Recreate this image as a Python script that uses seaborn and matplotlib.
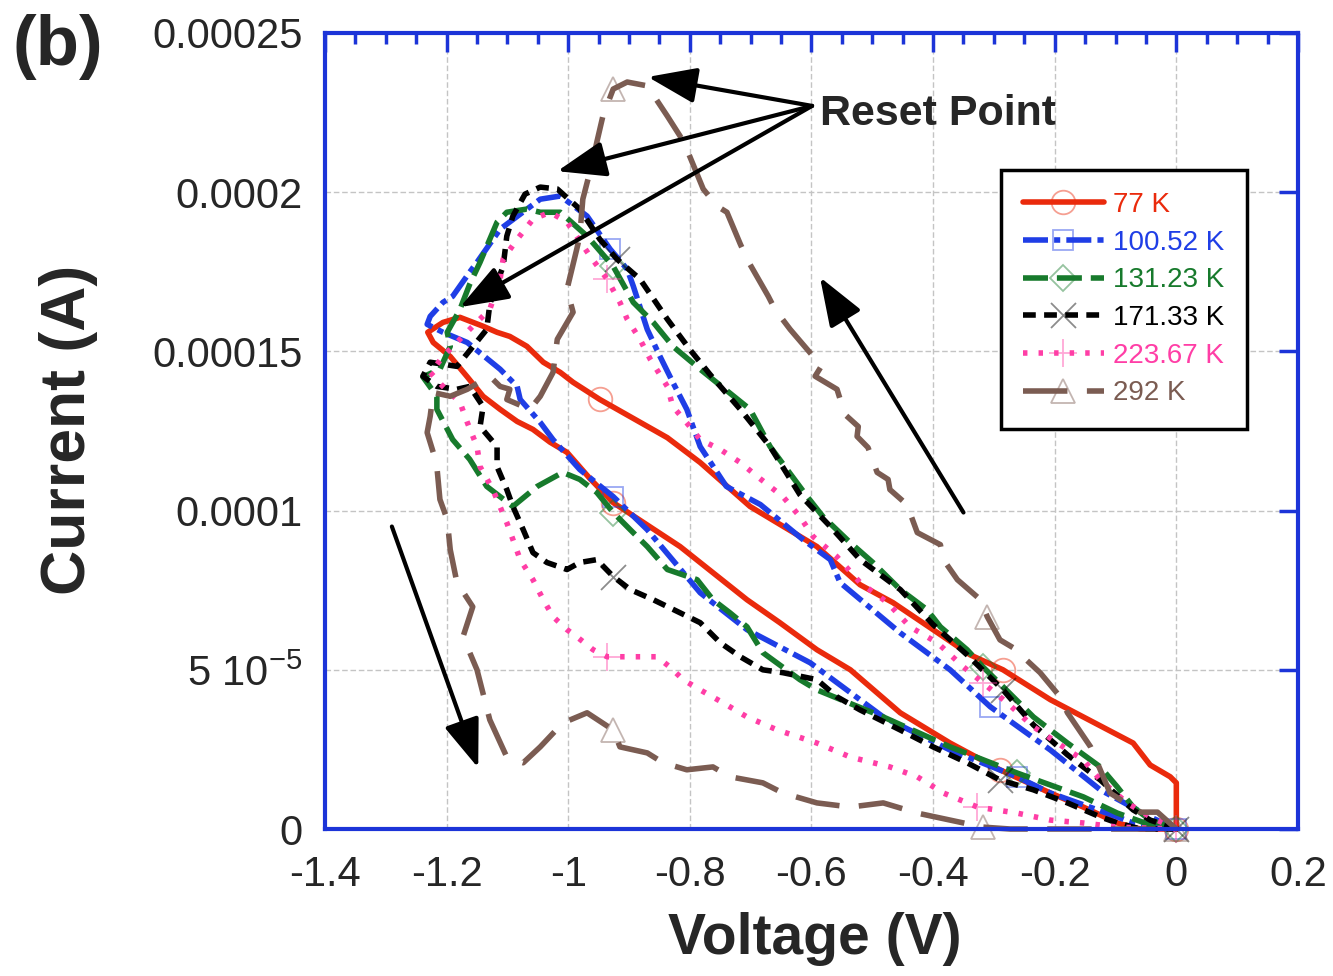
import numpy as np
import matplotlib
matplotlib.use("Agg")
import matplotlib.pyplot as plt
from matplotlib.lines import Line2D
from matplotlib.colors import to_rgba
from matplotlib.ticker import FixedLocator, MultipleLocator, NullLocator
import seaborn as sns

# ---------------------------------------------------------------------------
# I-V sweeps (voltage in V, current in microamps); each loop starts at 0 V,
# runs out along the high-current branch and returns along the low branch.
# ---------------------------------------------------------------------------
v_77 = [0.000, 0.000, -0.010, -0.043, -0.071, -0.153, -0.207, -0.285, -0.339, -0.400,
        -0.466, -0.520, -0.591, -0.701, -0.783, -0.837, -0.948, -0.992, -1.013, -1.041,
        -1.068, -1.096, -1.117, -1.140, -1.178, -1.206, -1.231,
        -1.222, -1.194, -1.166, -1.140, -1.112, -1.084, -1.058, -1.030, -1.002, -0.964,
        -0.926, -0.816, -0.706, -0.652, -0.591, -0.536, -0.454, -0.372, -0.290, -0.207,
        -0.153, -0.097, -0.059, 0.000]
i_77 = [0.0, 14.5, 16.4, 20.1, 27.0, 35.2, 40.6, 50.0, 54.7, 62.6,
        71.1, 76.7, 88.7, 101.3, 115.1, 122.9, 134.9, 140.3, 143.4, 146.6,
        151.6, 154.7, 156.0, 157.9, 160.7, 159.1, 156.0,
        152.8, 148.4, 142.0, 135.9, 131.8, 128.0, 125.5, 121.5, 118.3, 110.0,
        102.5, 88.7, 72.0, 64.8, 56.3, 50.0, 36.5, 27.0, 18.6, 11.3,
        6.9, 1.9, 0.0, 0.0]

v_100 = [0.000, -0.043, -0.125, -0.207, -0.306, -0.372, -0.454, -0.553, -0.569, -0.614,
         -0.684, -0.740, -0.783, -0.805, -0.828, -0.849, -0.870, -0.893, -0.903, -0.931,
         -0.969, -1.013, -1.046, -1.112, -1.150, -1.162, -1.190, -1.206, -1.227, -1.232,
         -1.206, -1.166, -1.112, -1.084, -1.079, -1.046, -1.025, -0.981, -0.926, -0.870,
         -0.783, -0.706, -0.652, -0.602, -0.482, -0.372, -0.262, -0.207, -0.097, -0.071,
         0.000]
i_100 = [0.0, 3.8, 12.3, 24.8, 38.4, 50.0, 61.6, 77.4, 84.6, 90.9,
         101.9, 107.6, 120.1, 131.8, 140.3, 148.4, 156.9, 170.5, 175.8, 182.1,
         192.5, 198.8, 197.8, 188.4, 178.0, 174.9, 167.3, 165.4, 161.0, 158.5,
         156.0, 152.8, 144.4, 139.0, 134.9, 127.7, 122.3, 112.9, 104.4, 94.0,
         74.2, 62.6, 57.2, 52.2, 35.2, 24.8, 16.4, 11.3, 3.8, 1.9,
         0.0]

v_131 = [0.000, -0.043, -0.071, -0.097, -0.125, -0.179, -0.235, -0.285, -0.318, -0.344,
         -0.388, -0.410, -0.454, -0.499, -0.536, -0.581, -0.607, -0.668, -0.701, -0.783,
         -0.828, -0.860, -0.893, -0.926, -0.969, -1.013, -1.046, -1.068, -1.101, -1.117,
         -1.129, -1.145, -1.162, -1.178, -1.199, -1.194, -1.211, -1.239,
         -1.216, -1.216, -1.190, -1.162, -1.134, -1.091, -1.051, -1.009, -0.981, -0.953,
         -0.926, -0.898, -0.870, -0.837, -0.788, -0.762, -0.734, -0.706, -0.680, -0.619,
         -0.591, -0.482, -0.372, -0.262, -0.153, -0.097, -0.043, 0.000]
i_131 = [0.0, 2.8, 6.9, 13.2, 19.5, 27.0, 35.2, 44.7, 50.9, 56.3,
         63.5, 68.9, 75.2, 83.7, 89.9, 98.1, 104.4, 120.1, 131.8, 144.4,
         151.6, 159.1, 165.4, 176.7, 186.2, 193.7, 193.7, 194.7, 193.7, 190.6,
         185.2, 178.0, 171.1, 163.2, 156.0, 151.6, 144.4, 142.0,
         135.9, 131.8, 122.3, 116.1, 107.6, 101.3, 107.6, 112.0, 109.8, 105.7,
         99.4, 94.0, 88.7, 81.5, 78.3, 72.0, 67.9, 63.5, 55.4, 46.9,
         43.7, 35.2, 25.8, 17.6, 10.1, 5.0, 1.3, 0.0]

v_171 = [0.000, -0.043, -0.071, -0.125, -0.179, -0.235, -0.285, -0.344, -0.400, -0.454,
         -0.520, -0.569, -0.619, -0.668, -0.717, -0.767, -0.800, -0.837, -0.882, -0.920,
         -0.948, -0.981, -1.018, -1.046, -1.071, -1.091, -1.101, -1.107, -1.117, -1.129,
         -1.134, -1.183, -1.227, -1.239,
         -1.216, -1.183, -1.162, -1.140, -1.145, -1.117, -1.117, -1.101, -1.091, -1.074,
         -1.058, -1.035, -1.002, -0.981, -0.953, -0.926, -0.898, -0.860, -0.816, -0.783,
         -0.750, -0.717, -0.680, -0.647, -0.591, -0.558, -0.520, -0.454, -0.400, -0.344,
         -0.290, -0.235, -0.179, -0.125, -0.097, -0.059, 0.000]
i_171 = [0.0, 2.8, 6.0, 15.4, 23.3, 32.7, 43.7, 54.7, 64.2, 75.2,
         84.6, 95.0, 105.0, 120.1, 131.8, 142.8, 150.6, 160.1, 172.7, 179.0,
         185.2, 194.7, 201.0, 201.6, 199.4, 192.5, 186.2, 176.7, 171.7, 164.8,
         156.9, 145.3, 146.6, 142.2,
         139.0, 138.1, 139.0, 132.7, 126.4, 120.1, 113.8, 106.6, 101.3, 94.0,
         86.8, 83.7, 81.5, 83.7, 84.6, 79.3, 75.2, 72.0, 67.9, 64.8,
         58.5, 54.1, 50.0, 49.1, 46.9, 41.5, 37.4, 31.1, 25.8, 20.8,
         15.4, 12.3, 8.2, 3.8, 1.9, 0.0, 0.0]

v_223 = [0.000, -0.043, -0.081, -0.125, -0.153, -0.186, -0.235, -0.278, -0.318, -0.350,
         -0.393, -0.438, -0.475, -0.520, -0.558, -0.597, -0.619, -0.647, -0.689, -0.717,
         -0.750, -0.783, -0.800, -0.828, -0.837, -0.865, -0.882, -0.903, -0.915, -0.936,
         -0.964, -1.002, -1.030, -1.058, -1.084, -1.107, -1.112, -1.129, -1.157, -1.206,
         -1.222,
         -1.227, -1.206, -1.178, -1.166, -1.150, -1.145, -1.124, -1.101, -1.079, -1.058,
         -1.041, -1.025, -1.002, -0.986, -0.959, -0.936, -0.903, -0.854, -0.833, -0.811,
         -0.783, -0.745, -0.706, -0.656, -0.591, -0.536, -0.471, -0.426, -0.383, -0.327,
         -0.262, -0.207, -0.153, -0.097, 0.000]
i_223 = [0.0, 3.8, 8.2, 15.4, 21.7, 25.8, 32.1, 39.6, 45.9, 50.9,
         58.5, 63.5, 71.1, 77.4, 85.5, 91.8, 98.1, 104.4, 110.7, 115.1,
         119.2, 122.3, 126.4, 132.7, 139.0, 147.5, 153.8, 160.1, 165.4, 172.7,
         179.9, 190.6, 193.7, 191.5, 185.2, 179.0, 172.7, 163.2, 157.9, 148.4,
         144.4,
         143.4, 139.0, 134.0, 127.7, 120.1, 113.8, 106.6, 96.2, 84.6, 78.3,
         72.0, 66.7, 62.6, 60.4, 56.3, 54.1, 54.1, 54.1, 50.9, 46.9,
         43.7, 39.6, 35.2, 31.1, 27.0, 22.6, 19.5, 16.4, 11.3, 6.9,
         5.0, 2.8, 1.9, 0.6, 0.0]

v_292 = [0.000, -0.031, -0.059, -0.109, -0.141, -0.179, -0.191, -0.224, -0.268, -0.290,
         -0.311, -0.322, -0.360, -0.383, -0.388, -0.426, -0.443, -0.471, -0.474, -0.492,
         -0.507, -0.525, -0.523, -0.545, -0.558, -0.594, -0.582, -0.597, -0.635, -0.660,
         -0.671, -0.704, -0.717, -0.739, -0.755, -0.778, -0.805, -0.816, -0.837, -0.870,
         -0.903, -0.926,
         -0.943, -0.953, -0.959, -0.976, -0.981, -0.986, -1.002, -0.992, -1.018, -1.025,
         -1.046, -1.063, -1.101, -1.096, -1.112, -1.129, -1.166, -1.194, -1.222, -1.227,
         -1.232, -1.222, -1.216, -1.211, -1.199, -1.194, -1.183, -1.157, -1.173, -1.150,
         -1.129, -1.101, -1.074, -1.046, -1.009, -0.969, -0.926, -0.915, -0.870, -0.844,
         -0.805, -0.762, -0.734, -0.680, -0.647, -0.591, -0.536, -0.482, -0.426, -0.372,
         -0.318, -0.273, 0.000]
i_292 = [0.0, 5.3, 5.3, 11.3, 25.8, 36.5, 41.5, 49.1, 56.9, 59.4,
         66.7, 72.0, 78.3, 84.6, 89.3, 93.1, 101.9, 106.6, 109.8, 112.0,
         119.8, 123.3, 126.4, 130.2, 138.1, 142.2, 145.9, 148.4, 156.9, 163.2,
         167.3, 178.3, 183.7, 193.7, 195.6, 201.0, 213.5, 217.6, 223.9, 233.4,
         234.6, 232.4,
         223.9, 215.7, 210.4, 197.8, 186.2, 182.1, 169.5, 162.3, 153.8, 143.4,
         135.9, 131.8, 134.9, 138.1, 139.0, 142.2, 138.1, 135.9, 137.1, 129.6,
         124.5, 118.3, 113.8, 103.5, 97.2, 87.7, 77.4, 69.8, 60.4, 50.0,
         34.3, 22.6, 20.8, 25.8, 33.3, 36.5, 31.1, 25.8, 23.9, 20.8,
         18.6, 19.5, 16.4, 14.5, 11.3, 8.2, 6.9, 8.2, 5.0, 2.8,
         0.6, 0.0, 0.0]

temperatures = ["77 K", "100.52 K", "131.23 K", "171.33 K", "223.67 K", "292 K"]
voltages = [v_77, v_100, v_131, v_171, v_223, v_292]
currents_uA = [i_77, i_100, i_131, i_171, i_223, i_292]

x_ticks = [-1.4, -1.2, -1.0, -0.8, -0.6, -0.4, -0.2, 0.0, 0.2]
x_tick_labels = ["-1.4", "-1.2", "-1", "-0.8", "-0.6", "-0.4", "-0.2", "0", "0.2"]
y_ticks = [0.0, 5e-5, 1e-4, 1.5e-4, 2e-4, 2.5e-4]
y_tick_labels = ["0", "5 10$^{-5}$", "0.0001", "0.00015", "0.0002", "0.00025"]

# ---------------------------------------------------------------------------
# styling
# ---------------------------------------------------------------------------
FRAME_BLUE = "#1c34d8"
LW = 4.0
series_style = [
    dict(color="#ea2a0c", ls="-", marker="o", ms=17),
    dict(color="#1f3ee6", ls=(0, (4.5, 1.1, 1.1, 1.1)), marker="s", ms=15),
    dict(color="#177a2c", ls=(0, (4.5, 1.6)), marker="D", ms=13),
    dict(color="#000000", ls=(0, (2.3, 1.5)), marker="x", ms=18),
    dict(color="#ff3ea6", ls=(0, (0.8, 2.0)), marker="+", ms=20),
    dict(color="#7b5c52", ls=(0, (8.0, 3.5)), marker="^", ms=17),
]

sns.set_style("white")
plt.rcParams["font.family"] = ["Liberation Sans", "DejaVu Sans"]
plt.rcParams["mathtext.fontset"] = "custom"
plt.rcParams["mathtext.rm"] = "Liberation Sans"
plt.rcParams["mathtext.it"] = "Liberation Sans:italic"
plt.rcParams["mathtext.bf"] = "Liberation Sans:bold"
plt.rcParams["axes.unicode_minus"] = False

fig = plt.figure(figsize=(13.33, 9.76), dpi=100)
ax = fig.add_axes([0.2438, 0.1506, 0.7299, 0.8156])
ax.set_axisbelow(True)


def marker_points(v, targets=(-0.93, -0.31)):
    """Indices for sparse markers: one per target voltage on each branch,
    plus the final point back at 0 V."""
    v = np.asarray(v)
    k = int(np.argmin(v))
    idx = []
    for t in targets:
        idx.append(int(np.argmin(np.abs(v[:k + 1] - t))))
        idx.append(k + int(np.argmin(np.abs(v[k:] - t))))
    idx.append(len(v) - 1)
    return sorted(set(idx))


handles = []
for label, v, i_ua, st in zip(temperatures, voltages, currents_uA, series_style):
    v = np.asarray(v, dtype=float)
    cur = np.asarray(i_ua, dtype=float) * 1e-6
    mec = to_rgba(st["color"], 0.45)
    sns.lineplot(x=v, y=cur, ax=ax, sort=False, estimator=None, legend=False,
                 color=st["color"], linestyle=st["ls"], linewidth=LW,
                 marker=st["marker"], markersize=st["ms"],
                 markevery=marker_points(v), markerfacecolor="none",
                 markeredgecolor=mec, markeredgewidth=1.3, clip_on=False)
    handles.append(Line2D([], [], color=st["color"], linestyle=st["ls"], linewidth=LW,
                          marker=st["marker"], markersize=st["ms"],
                          markerfacecolor="none", markeredgecolor=mec,
                          markeredgewidth=1.3))

# axes, ticks, grid
ax.set_xlim(-1.4, 0.2)
ax.set_ylim(0, 2.5e-4)
ax.xaxis.set_major_locator(FixedLocator(x_ticks))
ax.set_xticklabels(x_tick_labels)
ax.xaxis.set_minor_locator(MultipleLocator(0.05))
ax.yaxis.set_major_locator(FixedLocator(y_ticks))
ax.set_yticklabels(y_tick_labels)
ax.yaxis.set_minor_locator(NullLocator())

ax.tick_params(which="both", direction="in", top=True, right=True,
               color=FRAME_BLUE, width=2.5)
ax.tick_params(which="major", length=14, labelsize=30)
ax.tick_params(axis="x", which="major", pad=19)
ax.tick_params(axis="y", which="major", pad=16)
ax.tick_params(which="minor", length=8)

for sp in ax.spines.values():
    sp.set_color(FRAME_BLUE)
    sp.set_linewidth(3)

ax.grid(True, which="major", color="#c4c4c4", linewidth=1.0, linestyle=(0, (4, 2)))

ax.set_xlabel("Voltage (V)", fontsize=41, fontweight="bold")
ax.set_ylabel("Current (A)", fontsize=45, fontweight="bold")
ax.xaxis.label.set_va("center")
ax.yaxis.label.set_va("center")
ax.xaxis.set_label_coords(0.503, -0.138)
ax.yaxis.set_label_coords(-0.264, 0.501)

# legend
leg = ax.legend(handles, temperatures, loc="upper right",
                bbox_to_anchor=(0.9476, 0.828), borderaxespad=0,
                fontsize=20, frameon=True, fancybox=False, edgecolor="black",
                framealpha=1, handlelength=2.9, handletextpad=0.35,
                labelspacing=0.42, borderpad=0.8, labelcolor="linecolor")
leg.get_frame().set_linewidth(2.5)

# annotations
arrow_kw = dict(arrowstyle="-|>,head_length=1.5,head_width=0.55",
                mutation_scale=20, lw=3, color="black", shrinkA=0, shrinkB=0)
ax.text(-0.586, 224.6e-6, "Reset Point", fontsize=31, fontweight="bold",
        ha="left", va="center")
for tip in [(-0.869, 236.2e-6), (-1.018, 206.6e-6), (-1.178, 163.9e-6)]:
    ax.annotate("", xy=tip, xytext=(-0.599, 227.1e-6), arrowprops=arrow_kw)
ax.annotate("", xy=(-0.586, 173.3e-6), xytext=(-0.350, 99.4e-6), arrowprops=arrow_kw)
ax.annotate("", xy=(-1.148, 19.2e-6), xytext=(-1.290, 95.0e-6), arrowprops=arrow_kw)

fig.text(0.043, 0.952, "(b)", fontsize=51, fontweight="bold", ha="center", va="center")

fig.savefig("out.png", dpi=100, facecolor="white")
